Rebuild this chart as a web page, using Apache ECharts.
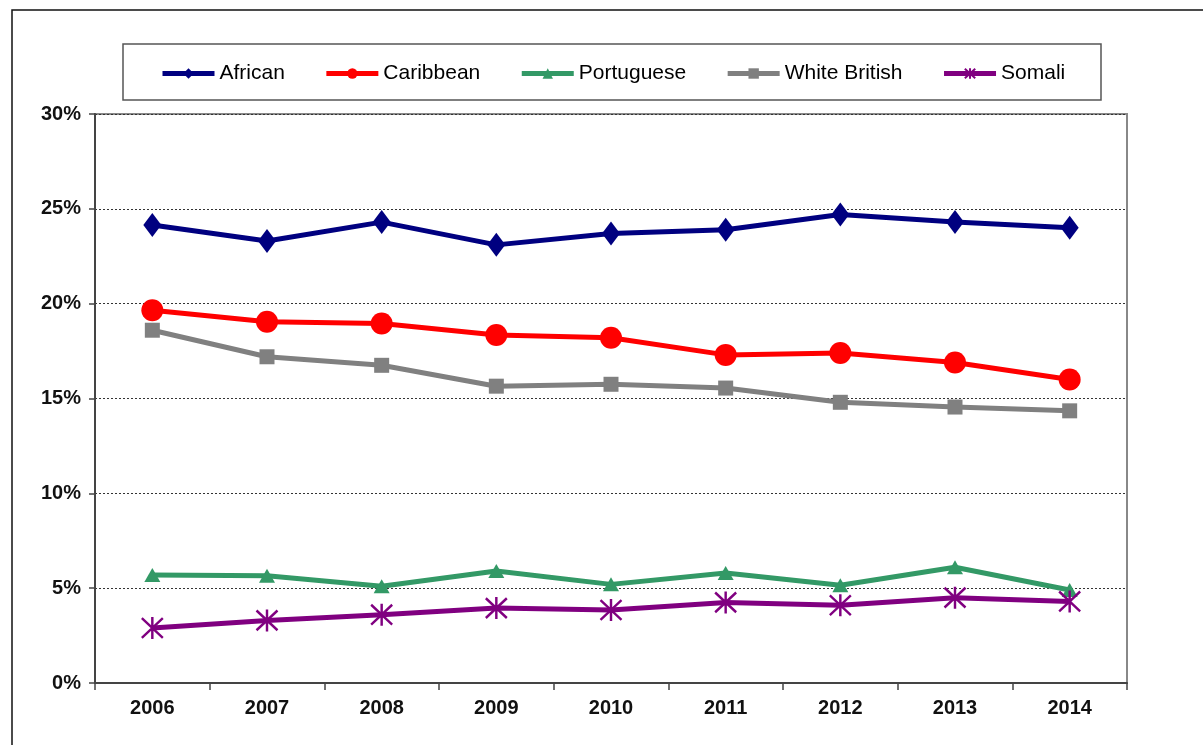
<!DOCTYPE html>
<html>
<head>
<meta charset="utf-8">
<script src="https://cdn.jsdelivr.net/npm/echarts@6/dist/echarts.min.js"></script>
<style>
html,body{margin:0;padding:0;background:#fff;}
#c{width:1203px;height:745px;}
</style>
</head>
<body>
<div id="c"></div>
<script>
const years = ['2006','2007','2008','2009','2010','2011','2012','2013','2014'];
const african = [24.15, 23.3, 24.3, 23.1, 23.7, 23.9, 24.7, 24.3, 24.0];
const caribbean = [19.65, 19.05, 18.95, 18.35, 18.2, 17.3, 17.4, 16.9, 16.0];
const portuguese = [5.7, 5.65, 5.1, 5.9, 5.2, 5.8, 5.15, 6.1, 4.9];
const whiteBritish = [18.6, 17.2, 16.75, 15.65, 15.75, 15.55, 14.8, 14.55, 14.35];
const somali = [2.9, 3.3, 3.6, 3.95, 3.85, 4.25, 4.1, 4.5, 4.3];
const yTicks = [0, 5, 10, 15, 20, 25, 30];

const asterisk = 'path://M0,-10L0,10M-9,-9L9,9M-9,9L9,-9';
const font = '"Liberation Sans", Arial, sans-serif';

function ser(name, data, color, symbol, size, extra) {
  return Object.assign({
    name: name,
    type: 'line',
    data: data,
    symbol: symbol,
    symbolSize: size,
    showAllSymbol: true,
    lineStyle: {color: color, width: 5},
    itemStyle: {color: color, borderColor: color, borderWidth: 0},
    emphasis: {disabled: true},
    animation: false
  }, extra || {});
}

const chart = echarts.init(document.getElementById('c'), null, {renderer: 'canvas'});
chart.setOption({
  backgroundColor: '#fff',
  animation: false,
  textStyle: {fontFamily: font},
  graphic: [
    {type: 'rect', shape: {x: 12, y: 10, width: 1250, height: 800}, style: {fill: 'none', stroke: '#111', lineWidth: 1.5}, silent: true},
    {type: 'rect', shape: {x: 123, y: 44, width: 978, height: 56}, style: {fill: '#fff', stroke: '#555', lineWidth: 1.5}, silent: true, z: -1}
  ],
  legend: {
    top: 58,
    left: 155,
    itemWidth: 52,
    itemHeight: 13,
    itemGap: 39,
    lineStyle: {width: 5},
    textStyle: {fontSize: 21, color: '#000', fontFamily: font, padding: [0, 0, 0, 0]},
    data: ['African', 'Caribbean', 'Portuguese', 'White British', 'Somali']
  },
  grid: {left: 95, top: 114, right: 76, bottom: 62, show: true, borderColor: '#888', borderWidth: 2, backgroundColor: '#fff'},
  xAxis: {
    type: 'category',
    data: years,
    boundaryGap: true,
    axisLine: {lineStyle: {color: '#444', width: 2}},
    axisTick: {show: true, interval: 0, length: 7, lineStyle: {color: '#444', width: 1.5}},
    axisLabel: {fontSize: 20, fontWeight: 'bold', color: '#111', margin: 15, fontFamily: font},
    splitLine: {show: false}
  },
  yAxis: {
    type: 'value',
    min: 0,
    max: 30,
    interval: 5,
    axisLine: {show: true, lineStyle: {color: '#444', width: 2}},
    axisTick: {show: true, length: 6, lineStyle: {color: '#444', width: 1.5}},
    axisLabel: {fontSize: 20, fontWeight: 'bold', color: '#111', margin: 14, fontFamily: font,
      formatter: function (v) { return yTicks.indexOf(v) >= 0 ? v + '%' : ''; }},
    splitLine: {show: true, lineStyle: {color: '#333', type: [2, 2], width: 1}}
  },
  series: [
    ser('African', african, '#000080', 'diamond', [18, 24]),
    ser('Caribbean', caribbean, '#ff0000', 'circle', 22),
    ser('Portuguese', portuguese, '#339966', 'triangle', [16, 14]),
    ser('White British', whiteBritish, '#808080', 'rect', 15),
    ser('Somali', somali, '#800080', asterisk, [21, 22], {itemStyle: {color: '#800080', borderColor: '#800080', borderWidth: 2.5}})
  ]
});
</script>
</body>
</html>
